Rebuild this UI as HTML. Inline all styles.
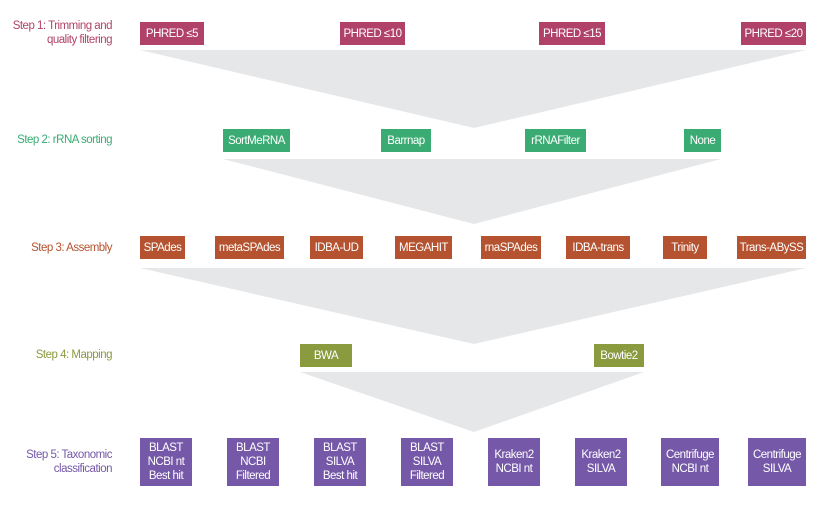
<!DOCTYPE html>
<html><head><meta charset="utf-8"><style>
body{margin:0;width:829px;height:508px;background:#fff;position:relative;overflow:hidden;font-family:"Liberation Sans",sans-serif}
.lab{position:absolute;right:717px;text-align:right;font-size:11.5px;line-height:14px;white-space:nowrap;letter-spacing:-0.5px}
.b{position:absolute;color:#fff;font-size:11.5px;display:flex;align-items:center;justify-content:center;text-align:center;line-height:14px;letter-spacing:-0.5px;white-space:nowrap}
svg{position:absolute;left:0;top:0}
</style></head><body>
<svg width="829" height="508">
<polygon points="140,50 806,50 474,128" fill="#e6e7e9"/>
<polygon points="223,159 721,159 474,224" fill="#e6e7e9"/>
<polygon points="140,268 806,268 474,344" fill="#e6e7e9"/>
<polygon points="300,372 644,372 474,432" fill="#e6e7e9"/>
</svg>
<div class="lab" style="top:19px;color:#b0426a">Step 1: Trimming and<br>quality filtering</div>
<div class="lab" style="top:133px;color:#3aab73">Step 2: rRNA sorting</div>
<div class="lab" style="top:241px;color:#b5522f">Step 3: Assembly</div>
<div class="lab" style="top:348px;color:#8a9a3f">Step 4: Mapping</div>
<div class="lab" style="top:448px;color:#7558a8">Step 5: Taxonomic<br>classification</div>

<div class="b" style="left:140px;top:22px;width:64px;height:23px;background:#b0426a">PHRED ≤5</div>
<div class="b" style="left:340px;top:22px;width:65px;height:23px;background:#b0426a">PHRED ≤10</div>
<div class="b" style="left:539px;top:22px;width:66px;height:23px;background:#b0426a">PHRED ≤15</div>
<div class="b" style="left:741px;top:22px;width:65px;height:23px;background:#b0426a">PHRED ≤20</div>

<div class="b" style="left:223px;top:129px;width:67px;height:23px;background:#3aab73">SortMeRNA</div>
<div class="b" style="left:381px;top:129px;width:50px;height:23px;background:#3aab73">Barrnap</div>
<div class="b" style="left:525px;top:129px;width:61px;height:23px;background:#3aab73">rRNAFilter</div>
<div class="b" style="left:684px;top:129px;width:37px;height:23px;background:#3aab73">None</div>

<div class="b" style="left:140px;top:236px;width:45px;height:23px;background:#b5522f">SPAdes</div>
<div class="b" style="left:215px;top:236px;width:69px;height:23px;background:#b5522f">metaSPAdes</div>
<div class="b" style="left:310px;top:236px;width:53px;height:23px;background:#b5522f">IDBA-UD</div>
<div class="b" style="left:395px;top:236px;width:57px;height:23px;background:#b5522f">MEGAHIT</div>
<div class="b" style="left:481px;top:236px;width:60px;height:23px;background:#b5522f">rnaSPAdes</div>
<div class="b" style="left:566px;top:236px;width:64px;height:23px;background:#b5522f">IDBA-trans</div>
<div class="b" style="left:663px;top:236px;width:44px;height:23px;background:#b5522f">Trinity</div>
<div class="b" style="left:737px;top:236px;width:69px;height:23px;background:#b5522f">Trans-ABySS</div>

<div class="b" style="left:300px;top:344px;width:52px;height:23px;background:#8a9a3f">BWA</div>
<div class="b" style="left:594px;top:344px;width:50px;height:23px;background:#8a9a3f">Bowtie2</div>

<div class="b" style="left:140px;top:438px;width:52px;height:48px;background:#7558a8">BLAST<br>NCBI nt<br>Best hit</div>
<div class="b" style="left:227px;top:438px;width:52px;height:48px;background:#7558a8">BLAST<br>NCBI<br>Filtered</div>
<div class="b" style="left:314px;top:438px;width:52px;height:48px;background:#7558a8">BLAST<br>SILVA<br>Best hit</div>
<div class="b" style="left:401px;top:438px;width:52px;height:48px;background:#7558a8">BLAST<br>SILVA<br>Filtered</div>
<div class="b" style="left:488px;top:438px;width:52px;height:48px;background:#7558a8">Kraken2<br>NCBI nt</div>
<div class="b" style="left:575px;top:438px;width:52px;height:48px;background:#7558a8">Kraken2<br>SILVA</div>
<div class="b" style="left:661px;top:438px;width:58px;height:48px;background:#7558a8">Centrifuge<br>NCBI nt</div>
<div class="b" style="left:748px;top:438px;width:58px;height:48px;background:#7558a8">Centrifuge<br>SILVA</div>
</body></html>
